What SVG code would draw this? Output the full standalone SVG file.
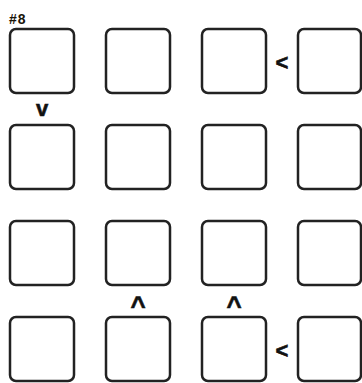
<svg xmlns="http://www.w3.org/2000/svg" width="362" height="383" viewBox="0 0 362 383">
<style>
.cell{fill:#fff;stroke:#222;stroke-width:2.5}
.sign{font-family:"Liberation Sans",Arial,sans-serif;font-weight:bold;fill:#111;stroke:#111;stroke-width:0.6;text-anchor:middle}
.title{font-family:"Liberation Sans",Arial,sans-serif;font-weight:bold;font-size:14px;letter-spacing:1px;fill:#1a1508}
</style>
<rect width="362" height="383" fill="#fff"/>
<text class="title" x="9" y="24">#8</text>
<g id="cells">
<g id="r1c1"><rect class="cell" x="10" y="29" width="64" height="64" rx="6"/></g>
<g id="r1c2"><rect class="cell" x="106" y="29" width="64" height="64" rx="6"/></g>
<g id="r1c3"><rect class="cell" x="202" y="29" width="64" height="64" rx="6"/></g>
<g id="r1c4"><rect class="cell" x="298" y="29" width="63" height="64" rx="6"/></g>
<g id="r2c1"><rect class="cell" x="10" y="125" width="64" height="64" rx="6"/></g>
<g id="r2c2"><rect class="cell" x="106" y="125" width="64" height="64" rx="6"/></g>
<g id="r2c3"><rect class="cell" x="202" y="125" width="64" height="64" rx="6"/></g>
<g id="r2c4"><rect class="cell" x="298" y="125" width="63" height="64" rx="6"/></g>
<g id="r3c1"><rect class="cell" x="10" y="221" width="64" height="64" rx="6"/></g>
<g id="r3c2"><rect class="cell" x="106" y="221" width="64" height="64" rx="6"/></g>
<g id="r3c3"><rect class="cell" x="202" y="221" width="64" height="64" rx="6"/></g>
<g id="r3c4"><rect class="cell" x="298" y="221" width="63" height="64" rx="6"/></g>
<g id="r4c1"><rect class="cell" x="10" y="317" width="64" height="64" rx="6"/></g>
<g id="r4c2"><rect class="cell" x="106" y="317" width="64" height="64" rx="6"/></g>
<g id="r4c3"><rect class="cell" x="202" y="317" width="64" height="64" rx="6"/></g>
<g id="r4c4"><rect class="cell" x="298" y="317" width="63" height="64" rx="6"/></g>
</g>
<g id="connectors">
<text class="sign" x="42" y="115.5" font-size="22">v</text>
<text class="sign" x="282" y="69.5" font-size="22">&lt;</text>
<text class="sign" x="138" y="315" font-size="26">^</text>
<text class="sign" x="234" y="315" font-size="26">^</text>
<text class="sign" x="282" y="357.5" font-size="22">&lt;</text>
</g>
</svg>
